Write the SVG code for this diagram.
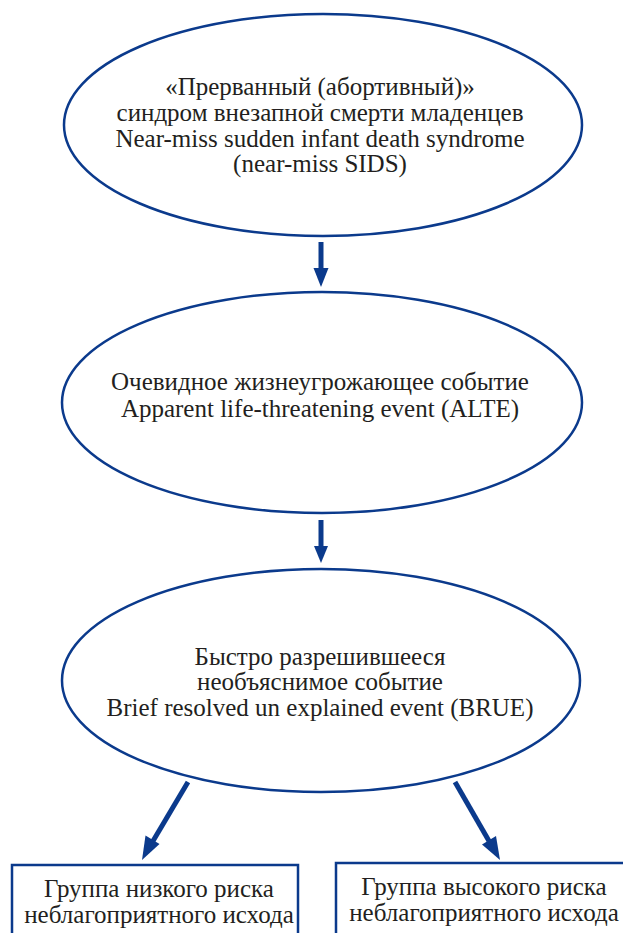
<svg xmlns="http://www.w3.org/2000/svg" width="623" height="933" viewBox="0 0 623 933">
<defs>
<style>
.node{fill:#ffffff;stroke:#0b3a8c;stroke-width:2.5}
.t{font-family:"Liberation Serif","Times New Roman",serif;font-size:25px;fill:#231f20;text-anchor:middle}
.conn{stroke:#0b3a8c;stroke-width:5;fill:none}
.head{fill:#0b3a8c}
</style>
</defs>
<rect width="623" height="933" fill="#ffffff"/>
<g id="connectors">
<line class="conn" x1="321" y1="242" x2="321" y2="270"/>
<polygon class="head" points="313.5,268 328.5,268 321,287"/>
<line class="conn" x1="321" y1="520" x2="321" y2="548"/>
<polygon class="head" points="314,546 328,546 321,563"/>
<line class="conn" x1="188" y1="782" x2="153" y2="841"/>
<polygon class="head" points="145.5,835.5 159.5,844 142,860"/>
<line class="conn" x1="455" y1="782" x2="489" y2="841"/>
<polygon class="head" points="482,844.5 496,836 500,860"/>
</g>
<g id="node-near-miss-sids">
<ellipse class="node" cx="323" cy="125" rx="259" ry="111"/>
<text class="t" x="320" y="95">«Прерванный (абортивный)»</text>
<text class="t" x="320" y="121">синдром внезапной смерти младенцев</text>
<text class="t" x="320" y="147">Near-miss sudden infant death syndrome</text>
<text class="t" x="320" y="172">(near-miss SIDS)</text>
</g>
<g id="node-alte">
<ellipse class="node" cx="322" cy="402.5" rx="260" ry="110.5"/>
<text class="t" x="320" y="390">Очевидное жизнеугрожающее событие</text>
<text class="t" x="320" y="417">Apparent life-threatening event (ALTE)</text>
</g>
<g id="node-brue">
<ellipse class="node" cx="321" cy="680.5" rx="259" ry="111.5"/>
<text class="t" x="320" y="665">Быстро разрешившееся</text>
<text class="t" x="320" y="690">необъяснимое событие</text>
<text class="t" x="320" y="716">Brief resolved un explained event (BRUE)</text>
</g>
<g id="node-low-risk">
<rect class="node" x="12" y="865" width="286" height="80"/>
<text class="t" x="159" y="897">Группа низкого риска</text>
<text class="t" x="159" y="923">неблагоприятного исхода</text>
</g>
<g id="node-high-risk">
<rect class="node" x="336" y="863" width="300" height="80"/>
<text class="t" x="484" y="895">Группа высокого риска</text>
<text class="t" x="484" y="921">неблагоприятного исхода</text>
</g>
</svg>
